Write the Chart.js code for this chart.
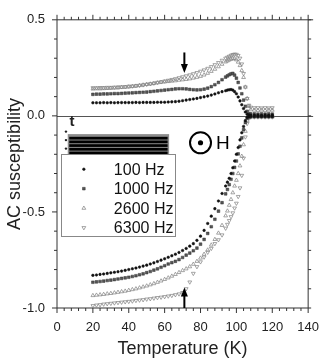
<!DOCTYPE html>
<html>
<head>
<meta charset="utf-8">
<script src="https://cdn.jsdelivr.net/npm/chart.js@4.4.0/dist/chart.umd.min.js"></script>
<style>
html, body { margin: 0; padding: 0; background: #fff; }
</style>
</head>
<body>
<canvas id="chi" width="331" height="361"></canvas>
<script>
// temperature grid (K)
var temps = [20,22,24,26,28,30,32,34,36,38,40,42,44,46,48,50,52,54,56,58,
  60,62,64,66,68,70,72,74,76,78,80,82,84,86,88,90,92,94,
  95,96,97,98,99,100,101,102,103,104,105,106,107,108,
  110,112,114,116,118,120];

var freqLabels = ['100 Hz', '1000 Hz', '2600 Hz', '6300 Hz'];

// upper branch
var up100 = [0.068,0.068,0.068,0.069,0.068,0.069,0.068,0.069,0.069,0.069,0.069,0.069,0.070,0.069,0.070,0.070,0.070,0.070,0.071,0.071,
  0.071,0.072,0.073,0.074,0.076,0.079,0.082,0.085,0.088,0.091,0.095,0.099,0.103,0.108,0.114,0.120,0.126,0.131,
  0.134,0.136,0.137,0.134,0.126,0.115,0.098,0.078,0.058,0.038,0.020,0.008,0.005,0.004,
  0.004,0.004,0.003,0.004,0.003,0.004];
var up1000 = [0.112,0.113,0.113,0.114,0.114,0.115,0.116,0.116,0.117,0.118,0.119,0.120,0.121,0.122,0.123,0.124,0.126,0.128,0.130,0.132,
  0.134,0.136,0.138,0.140,0.141,0.141,0.140,0.138,0.136,0.135,0.136,0.139,0.144,0.152,0.162,0.174,0.188,0.202,
  0.208,0.214,0.219,0.221,0.212,0.196,0.174,0.145,0.115,0.082,0.050,0.024,0.012,0.010,
  0.010,0.009,0.010,0.009,0.010,0.009];
var up2600 = [0.140,0.141,0.141,0.142,0.143,0.144,0.145,0.146,0.148,0.149,0.151,0.153,0.155,0.158,0.161,0.164,0.166,0.169,0.172,0.175,
  0.177,0.179,0.181,0.183,0.186,0.188,0.190,0.193,0.197,0.201,0.206,0.213,0.222,0.232,0.243,0.256,0.269,0.281,
  0.286,0.291,0.295,0.298,0.298,0.292,0.280,0.262,0.236,0.200,0.150,0.090,0.050,0.032,
  0.030,0.029,0.030,0.029,0.030,0.030];
var up6300 = [0.146,0.146,0.147,0.147,0.148,0.148,0.149,0.150,0.151,0.152,0.154,0.155,0.157,0.159,0.161,0.164,0.167,0.170,0.174,0.177,
  0.181,0.185,0.189,0.193,0.198,0.203,0.208,0.213,0.219,0.225,0.232,0.239,0.247,0.256,0.266,0.277,0.289,0.300,
  0.305,0.310,0.315,0.319,0.321,0.320,0.314,0.300,0.270,0.220,0.150,0.090,0.055,0.045,
  0.042,0.042,0.041,0.042,0.041,0.042];

// lower branch
var lo100 = [-0.830,-0.828,-0.825,-0.823,-0.820,-0.817,-0.814,-0.811,-0.808,-0.804,-0.800,-0.796,-0.792,-0.787,-0.782,-0.777,-0.771,-0.765,-0.758,-0.751,
  -0.744,-0.736,-0.728,-0.720,-0.711,-0.701,-0.690,-0.678,-0.665,-0.648,-0.626,-0.596,-0.560,-0.522,-0.483,-0.443,-0.404,-0.365,
  -0.345,-0.325,-0.300,-0.270,-0.235,-0.200,-0.165,-0.125,-0.088,-0.055,-0.025,-0.008,-0.004,-0.003,
  -0.003,-0.003,-0.003,-0.003,-0.003,-0.003];
var lo1000 = [-0.866,-0.864,-0.862,-0.860,-0.857,-0.855,-0.852,-0.849,-0.846,-0.843,-0.840,-0.836,-0.832,-0.827,-0.822,-0.816,-0.810,-0.803,-0.796,-0.788,
  -0.780,-0.771,-0.764,-0.757,-0.748,-0.737,-0.725,-0.714,-0.702,-0.688,-0.668,-0.643,-0.612,-0.577,-0.538,-0.496,-0.452,-0.406,
  -0.383,-0.358,-0.330,-0.300,-0.268,-0.235,-0.198,-0.158,-0.115,-0.072,-0.035,-0.012,-0.006,-0.004,
  -0.004,-0.004,-0.004,-0.004,-0.004,-0.004];
var lo2600 = [-0.935,-0.933,-0.931,-0.929,-0.926,-0.924,-0.921,-0.918,-0.915,-0.912,-0.908,-0.904,-0.900,-0.895,-0.890,-0.885,-0.879,-0.873,-0.866,-0.859,
  -0.851,-0.843,-0.834,-0.825,-0.815,-0.805,-0.796,-0.785,-0.772,-0.757,-0.740,-0.720,-0.698,-0.672,-0.643,-0.610,-0.570,-0.520,
  -0.495,-0.465,-0.435,-0.400,-0.365,-0.335,-0.300,-0.260,-0.210,-0.150,-0.080,-0.025,-0.009,-0.006,
  -0.005,-0.005,-0.005,-0.005,-0.005,-0.005];
var lo6300 = [-0.988,-0.985,-0.983,-0.980,-0.978,-0.976,-0.974,-0.972,-0.970,-0.968,-0.966,-0.964,-0.961,-0.959,-0.957,-0.954,-0.952,-0.949,-0.946,-0.944,
  -0.941,-0.938,-0.935,-0.931,-0.927,-0.920,-0.900,-0.865,-0.820,-0.785,-0.760,-0.735,-0.710,-0.690,-0.665,-0.645,-0.620,-0.585,
  -0.565,-0.545,-0.525,-0.505,-0.480,-0.455,-0.420,-0.375,-0.310,-0.220,-0.110,-0.040,-0.012,-0.006,
  -0.006,-0.006,-0.006,-0.006,-0.006,-0.006];

var FONT = "'Liberation Sans', Arial, Helvetica, sans-serif";

function pts(vals) {
  return temps.map(function(t, i) { return { x: t, y: vals[i] }; });
}

var styles = [
  { pointStyle: 'circle', pointRadius: 1.3, pointRotation: 0, pointBorderWidth: 0.5, pointBackgroundColor: '#111', pointBorderColor: '#111' },
  { pointStyle: 'rect', pointRadius: 1.9, pointRotation: 0, pointBorderWidth: 0.5, pointBackgroundColor: '#555', pointBorderColor: '#333' },
  { pointStyle: 'triangle', pointRadius: 2.2, pointRotation: 0, pointBorderWidth: 0.7, pointBackgroundColor: 'rgba(0,0,0,0)', pointBorderColor: '#808080' },
  { pointStyle: 'triangle', pointRadius: 2.2, pointRotation: 180, pointBorderWidth: 0.7, pointBackgroundColor: 'rgba(0,0,0,0)', pointBorderColor: '#808080' }
];

function makeSet(label, vals, s) {
  return Object.assign({ label: label, data: pts(vals), showLine: false }, s);
}

var upper = [up100, up1000, up2600, up6300];
var lower = [lo100, lo1000, lo2600, lo6300];
var datasets = [];
for (var i = 0; i < 4; i++) datasets.push(makeSet(freqLabels[i], upper[i], styles[i]));
for (var j = 0; j < 4; j++) datasets.push(makeSet(freqLabels[j], lower[j], styles[j]));

function line(ctx, x1, y1, x2, y2) {
  ctx.beginPath(); ctx.moveTo(x1, y1); ctx.lineTo(x2, y2); ctx.stroke();
}

function arrow(ctx, x, yFrom, yTo) {
  var dir = yTo > yFrom ? 1 : -1;
  ctx.lineWidth = 2;
  line(ctx, x, yFrom, x, yTo - dir * 7);
  ctx.beginPath();
  ctx.moveTo(x, yTo);
  ctx.lineTo(x - 3.5, yTo - dir * 9);
  ctx.lineTo(x + 3.5, yTo - dir * 9);
  ctx.closePath();
  ctx.fill();
}

var decor = {
  id: 'decor',
  beforeDatasetsDraw: function(chart) {
    var ctx = chart.ctx, a = chart.chartArea, xs = chart.scales.x, ys = chart.scales.y;
    ctx.save();
    ctx.lineWidth = 1;
    ctx.strokeStyle = '#555';
    var y0 = Math.round(ys.getPixelForValue(0)) + 0.5;
    line(ctx, a.left, y0, a.right + 5, y0);
    ctx.strokeStyle = '#333';
    line(ctx, a.left, a.top, a.right + 5, a.top);
    line(ctx, a.left, a.bottom, a.right, a.bottom);
    line(ctx, a.left, a.top, a.left, a.bottom);
    line(ctx, a.right, a.top, a.right, a.bottom);
    for (var t = 0; t <= 140; t += 4) {
      var x = xs.getPixelForValue(t);
      var len = t % 20 === 0 ? 5 : 3;
      line(ctx, x, a.bottom, x, a.bottom + len);
      line(ctx, x, a.top, x, a.top - len);
    }
    for (var k = -10; k <= 5; k++) {
      var y = ys.getPixelForValue(k / 10);
      var l2 = k % 5 === 0 ? 5 : 3;
      line(ctx, a.left - l2, y, a.left, y);
      line(ctx, a.right, y, a.right + 3, y);
    }
    ctx.restore();
  },
  afterDatasetsDraw: function(chart) {
    var ctx = chart.ctx, xs = chart.scales.x, ys = chart.scales.y;
    var X = function(v) { return xs.getPixelForValue(v); };
    var Y = function(v) { return ys.getPixelForValue(v); };
    ctx.save();
    ctx.fillStyle = '#000';
    ctx.strokeStyle = '#000';

    // arrows at the kink
    arrow(ctx, X(71), Y(0.33), Y(0.223));
    arrow(ctx, X(71), Y(-1.0), Y(-0.893));

    // field symbol
    ctx.lineWidth = 2;
    ctx.beginPath(); ctx.arc(X(80), Y(-0.14), 10.5, 0, Math.PI * 2); ctx.stroke();
    ctx.beginPath(); ctx.arc(X(80), Y(-0.14), 2.6, 0, Math.PI * 2); ctx.fill();
    ctx.font = '19px ' + FONT;
    ctx.textAlign = 'center';
    ctx.textBaseline = 'middle';
    ctx.fillText('H', X(92.4), Y(-0.14) + 1);

    // layered sample inset
    var l = X(6), r = X(62.5), top = Y(-0.095), bot = Y(-0.203);
    ctx.fillStyle = '#8c8c8c';
    ctx.fillRect(l, top, r - l, bot - top);
    ctx.fillStyle = '#000';
    for (var b = 0; b < 5; b++) {
      ctx.fillRect(l + 1.5, top + 2.7 + b * 3.7, r - l - 3, 2.7);
    }
    ctx.fillStyle = '#222';
    for (var d = 0; d < 4; d++) {
      ctx.beginPath(); ctx.arc(l - 1.8, top - 2.5 + d * 8.5, 1.2, 0, Math.PI * 2); ctx.fill();
    }
    ctx.font = 'bold 15px ' + FONT;
    ctx.textAlign = 'center';
    ctx.textBaseline = 'alphabetic';
    ctx.fillText('t', X(8.3), Y(-0.055));

    // legend box
    var lx = X(2.15), rx = X(65.6), ty = Y(-0.201), by = Y(-0.626);
    ctx.fillStyle = '#fff';
    ctx.fillRect(lx, ty, rx - lx, by - ty);
    ctx.strokeStyle = '#888';
    ctx.lineWidth = 1;
    ctx.strokeRect(Math.round(lx) + 0.5, Math.round(ty) + 0.5, Math.round(rx - lx), Math.round(by - ty));
    ctx.font = '16px ' + FONT;
    ctx.textAlign = 'left';
    ctx.textBaseline = 'middle';
    for (var i = 0; i < 4; i++) {
      var ds = chart.data.datasets[i];
      var my = ty + 14.7 + i * 19.5;
      ctx.fillStyle = ds.pointBackgroundColor;
      ctx.strokeStyle = ds.pointBorderColor;
      ctx.lineWidth = ds.pointBorderWidth;
      Chart.helpers.drawPoint(ctx, {
        pointStyle: ds.pointStyle, rotation: ds.pointRotation,
        radius: ds.pointRadius, borderWidth: ds.pointBorderWidth
      }, lx + 23, my);
      ctx.fillStyle = '#111';
      ctx.fillText(ds.label, lx + 53, my + 1);
    }
    ctx.restore();
  }
};

new Chart(document.getElementById('chi'), {
  type: 'scatter',
  data: { datasets: datasets },
  options: {
    responsive: false,
    animation: false,
    layout: { padding: { top: 7.5, right: 13.5, left: 0, bottom: 0 } },
    plugins: { legend: { display: false }, tooltip: { enabled: false } },
    scales: {
      x: {
        type: 'linear', min: 0, max: 140,
        grid: { display: false, drawTicks: false, tickLength: 0 },
        border: { display: false },
        ticks: {
          stepSize: 4, autoSkip: false, maxRotation: 0, padding: 12,
          color: '#222', font: { family: FONT, size: 13 },
          callback: function(v) { return v % 20 === 0 ? String(v) : ''; }
        },
        title: {
          display: true, text: 'Temperature (K)', color: '#222',
          font: { family: FONT, size: 18 }, padding: { top: 0, bottom: 1 }
        },
        afterFit: function(s) { s.height = 53; }
      },
      y: {
        type: 'linear', min: -1, max: 0.5,
        grid: { display: false, drawTicks: false, tickLength: 0 },
        border: { display: false },
        ticks: {
          stepSize: 0.1, autoSkip: false, padding: 12,
          color: '#222', font: { family: FONT, size: 13 },
          callback: function(v) {
            if (Math.abs(v * 2 - Math.round(v * 2)) > 1e-6) return '';
            if (Math.abs(v) < 1e-9) return '0.0';
            return v.toFixed(1);
          }
        },
        title: {
          display: true, text: 'AC susceptibility', color: '#222',
          font: { family: FONT, size: 18 }, padding: { top: 4, bottom: 0 }
        },
        afterFit: function(s) { s.width = 57; }
      }
    }
  },
  plugins: [decor]
});
</script>
</body>
</html>
